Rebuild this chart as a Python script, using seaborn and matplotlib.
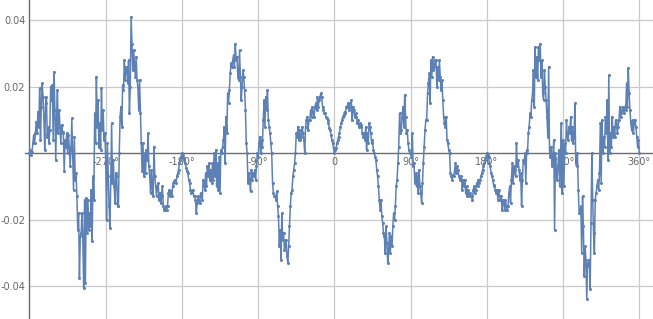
import numpy as np
import pandas as pd
import matplotlib
matplotlib.use("Agg")
import matplotlib.pyplot as plt
import seaborn as sns

# values in thousandths, one per degree
seg_a = [0, 1, -0.5, 0.5, 3, 5.5, 3, 6, 9.5, 6, 12.5, 8, 19.5, 4, 14,
         21, 17, 11, 1, 15, 17, 5, 8, 3, 7, 20, 16, 20.5, 4, 24.5,
         13, -2, 11, 19, 6, 13, 8, 3, 8.5, 6.5, 6, -5.5, 4, 2, 6,
         0, 5.5, 2, -4, 1, 10.5, -1, -11, 5, -8, -6, -13, -23, -18, -37.5,
         -25, -24, -18, -26, -40.5, -14, -39, -13.5, -24, -14,
         -23, -18, -22, -11, -26.5, -7, -14, 12, 3, 23,
         8, 16, 2, 9, 1, 19.5, 7, 13, 4, 6]
seg_b = [-2, -20, 3, -7, -16, -22.5, -8, 9, -9, -2, -10, -15, -6, -7, -16,
         -16, 0, 11, 14, 8, 20.5, 19, 28, 22, 26, 26, 21, 28, 12, 20,
         41, 33, 25, 31, 27, 23, 29, 22, 20, 13, 22, 12, 3, -5.5, 3,
         -7, 0, -6, 1, -2, 6, -4, -7, -12, -5, -10, -13, 2, -7, -10,
         -13, -10, -9, -14, -12, -15, -13, -10, -16, -17,
         -17, -16, -17, -16, -12, -11, -13, -11.5, -13, -10,
         -9, -8.5, -8, -9, -7, -6, -5, -3, -2, -1]
seg_c = [0, -0.5, -1.5, -2, -3, -4.5, -5.5, -6, -8, -9, -11, -12, -11.5, -11, -13,
         -13, -14, -18, -15, -13, -14.5, -15, -12, -13, -14, -8, -9, -11, -6, -10,
         -4, -7, -3, -8, -5, -9, -3, -8, 0, -7, 1, -10, -3, -11, -1,
         -12, 1, 0, 2, 4, 8, -3, 11, 6, 18, 15, 19, 24, 27, 26,
         28, 29.5, 26, 33, 28, 29, 23, 22, 31, 23, 16, 20, 25, 23, 19,
         13, 3, 0, -9, -6, -8, -11.5, -5, -8, -6, -7, -5, -8, -4, 0]
seg_d = [-1, 3, 5, 0, 4, 2, 10, 16, 8, 17, 13, 19, 10, 8, 6,
         3, 0, -9, -12, -13, -13, -14, -11.5, -16, -19, -28, -23, -32, -18, -26,
         -24, -29, -28, -26, -31, -33, -28, -22, -16, -12, -11, -7, -5, -3, 0,
         6, 5, 8, 4, 7, 4, 5, 8, 6, 4, 0, 8, 10, 11, 7,
         10, 10, 13, 11, 14, 12, 11, 14, 15, 13, 17, 14, 16, 17, 18,
         17, 14, 13, 12, 12, 11, 10.5, 10, 9, 7.5, 7, 5.5, 4, 3, 1.5]
seg_e = [0, 1, 1.5, 3, 4, 5, 6, 8, 9, 10, 11, 11.5, 12.5, 12, 14,
         14, 15, 13, 14, 15, 16, 10, 14, 13, 11, 12, 11, 9, 10, 8,
         9, 8, 8.5, 6, 5, 6, 4, 8, 1, 6, 3, 9, 8, 6, 3,
         4, 1, 0, -1, -2, -5, -7, -10, -14, -17, -14, -19, -21, -24, -25,
         -30, -22, -27, -33, -29, -24, -30, -25, -28, -22, -18, -20, -16, -10, -8,
         -3, 2, 12, 6, 7, 11, 14, 8, 17.5, 11, 6, 7, 3, 1, 0]
seg_f = [0, -1, 6, -4, -3, -9, -6, -10, -7, -12, -5, -10, -12, -15, -9,
         -3, 2, 7, 10, 10, 18, 21, 24, 15, 28, 23, 29, 25, 26, 28,
         28, 20, 26, 22, 28, 23, 19, 22, 16, 11, 9, 8, 11, 4, 3,
         1, 0, -6, -7, -8, -6.5, -7, -5, -3, -6, -4, -5, -7, -8, -8,
         -7, -11, -8, -10, -8, -12, -10, -13, -11, -13, -12, -13, -13, -14, -11,
         -10, -12, -11, -9, -10, -8, -9, -8, -7, -6, -5, -4, -3, -2, -1]
seg_g = [0, -0.5, -1, -3, -4, -6, -7, -8, -9.5, -10, -11, -12, -11, -14, -11,
         -13, -14, -13, -17, -14, -15, -17, -14, -16, -17, -16, -12, -10, -15, -8,
         -3, -9, -4, -5, -7, 3, -4, -2, -5, -8, -6, -16, -8, -2, -3,
         0, -9, 1, 0, 6, 8, 12, 11, 16, 18, 25, 14, 32, 23, 29,
         22, 32, 28, 33, 23, 28, 18, 16, 25, 20, 16, 11, 5, 26, 1,
         -1, 2, -4, -1, 4, -23, 0, -5, -8, -4, 1, -10, -3, 9, -12]
seg_h = [4, -10, 3, 0, 10, 5, 4, 8, 6, 11, 4, 8, 3, 5, 15,
         -3, -4, 0, -11, -18, -18, -16, -30, -13, -22, -37, -28, -32, -44, -33,
         -34, -32, -41, -21, 0, -14, -24, -30, -14, -12, -10, -8, -11, -6, 9,
         -9, 10, 0, 5, 2, 11, 6, 16, -2, 23.5, 0, 6, 2, 11, 5,
         8, 5, 10, 9, 6, 8, 10, 14, 11, 12, 13, 14, 12, 14, 13,
         21, 14, 25.5, 18, 13, 9, 7, 10, 6, 9, 10, 8, 5, 2, 4, 0]

angles = np.arange(-360, 361)
values = np.concatenate([seg_a, seg_b, seg_c, seg_d, seg_e, seg_f, seg_g, seg_h]) / 1000.0

xticks = [-270, -180, -90, 0, 90, 180, 270, 360]
xticklabels = ["-270°", "-180°", "-90°", "0", "90°", "180°", "270°", "360°"]
yticks = [-0.04, -0.02, 0.02, 0.04]
yticklabels = ["-0.04", "-0.02", "0.02", "0.04"]

df = pd.DataFrame({"angle": angles, "value": values})

sns.set_style("white")
plt.rcParams["font.family"] = ["DejaVu Sans"]

fig = plt.figure(figsize=(6.53, 3.19), dpi=100)
ax = fig.add_axes([0, 0, 1, 1])

axis_col = "#6b6b6b"
grid_col = "#c9c9c9"
text_col = "#666666"

xlo, xhi = -394.8, 376.2
ylo, yhi = -0.0499, 0.0461

# grid lines
for xv in xticks:
    ax.axvline(xv, color=grid_col, lw=0.9, zorder=0)
xmin_frac = (-360 - xlo) / (xhi - xlo)
for yv in yticks:
    ax.axhline(yv, xmin=xmin_frac, xmax=1, color=grid_col, lw=0.9, zorder=0)

sns.lineplot(data=df, x="angle", y="value", ax=ax, color="#5E81B5",
             linewidth=1.1, marker="o", markersize=2.2, markeredgewidth=0,
             zorder=3)

ax.set_xlim(xlo, xhi)
ax.set_ylim(ylo, yhi)

for s in ["top", "right"]:
    ax.spines[s].set_visible(False)
ax.spines["left"].set_position(("data", -360))
ax.spines["bottom"].set_position(("data", 0))
ax.spines["bottom"].set_bounds(-365, xhi)
for s in ["left", "bottom"]:
    ax.spines[s].set_color(axis_col)
    ax.spines[s].set_linewidth(1.0)
    ax.spines[s].set_zorder(2)

ax.set_xticks(xticks)
ax.set_xticklabels(xticklabels)
ax.set_yticks(yticks)
ax.set_yticklabels(yticklabels)
ax.set_yticks(np.arange(-0.045, 0.046, 0.005), minor=True)
ax.tick_params(axis="both", which="major", direction="in", length=4, width=0.8,
               color=axis_col, labelcolor=text_col, labelsize=7)
ax.tick_params(axis="y", which="minor", direction="in", length=2.5, width=0.6,
               color=axis_col)
ax.tick_params(axis="x", pad=3)
ax.tick_params(axis="y", pad=3)
ax.set_xlabel("")
ax.set_ylabel("")

fig.savefig("out.png", dpi=100)
